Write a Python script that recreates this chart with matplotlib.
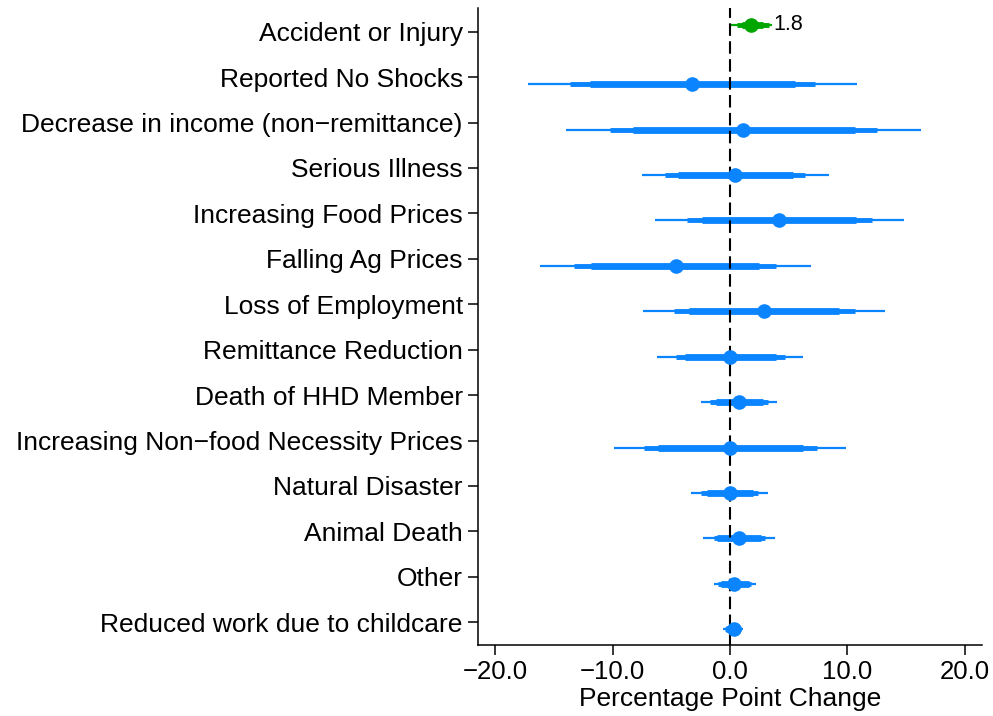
import matplotlib
matplotlib.use('Agg')
import matplotlib.pyplot as plt

# Shock categories, top to bottom
categorias = [
    'Accident or Injury',
    'Reported No Shocks',
    'Decrease in income (non\u2212remittance)',
    'Serious Illness',
    'Increasing Food Prices',
    'Falling Ag Prices',
    'Loss of Employment',
    'Remittance Reduction',
    'Death of HHD Member',
    'Increasing Non\u2212food Necessity Prices',
    'Natural Disaster',
    'Animal Death',
    'Other',
    'Reduced work due to childcare',
]

# Blue series (all rows except the first)
est_azul = [-3.2, 1.1, 0.4, 4.2, -4.6, 2.9, 0.0, 0.8, 0.0, 0.0, 0.8, 0.3, 0.3]
lo99_azul = [-17.2, -14.0, -7.5, -6.4, -16.2, -7.4, -6.2, -2.5, -9.9, -3.3, -2.3, -1.4, -0.6]
hi99_azul = [10.8, 16.3, 8.4, 14.8, 6.9, 13.2, 6.2, 4.0, 9.9, 3.2, 3.8, 2.2, 1.1]
lo95_azul = [-13.6, -10.2, -5.5, -3.7, -13.3, -4.8, -4.6, -1.7, -7.3, -2.5, -1.4, -1.0, -0.4]
hi95_azul = [7.2, 12.5, 6.4, 12.1, 3.9, 10.6, 4.7, 3.2, 7.4, 2.4, 3.0, 1.8, 0.9]
lo90_azul = [-11.9, -8.3, -4.4, -2.4, -11.8, -3.5, -3.8, -1.2, -6.1, -2.0, -1.1, -0.8, -0.3]
hi90_azul = [5.5, 10.6, 5.4, 10.7, 2.5, 9.3, 3.9, 2.8, 6.2, 2.0, 2.6, 1.6, 0.8]

# Green series (first row only)
est_verde = [1.8]
lo99_verde = [0.0]
hi99_verde = [3.6]
lo95_verde = [0.6]
hi95_verde = [3.3]
lo90_verde = [1.0]
hi90_verde = [2.8]

AZUL = '#0A84FF'
VERDE = '#00A600'

plt.rcParams['font.family'] = ['Liberation Sans', 'DejaVu Sans']
plt.rcParams['axes.unicode_minus'] = True

fig = plt.figure(figsize=(9.93, 7.16), dpi=100)
ax = fig.add_axes([0.4814, 0.0992, 0.5075, 0.8896])

n = len(categorias)
posiciones = [n - i for i in range(n)]


def dibujar_serie(ys, est, lo99, hi99, lo95, hi95, lo90, hi90, color):
    ax.hlines(ys, lo99, hi99, color=color, lw=1.6, zorder=2)
    ax.hlines(ys, lo95, hi95, color=color, lw=3.5, zorder=2)
    ax.hlines(ys, lo90, hi90, color=color, lw=4.9, zorder=2)
    ax.plot(est, ys, 'o', color=color, ms=9.5, mec=color, zorder=4)


ys_verde = [posiciones[0] + 0.155]
ys_azul = [p - 0.155 for p in posiciones[1:]]

dibujar_serie(ys_verde, est_verde, lo99_verde, hi99_verde, lo95_verde,
              hi95_verde, lo90_verde, hi90_verde, VERDE)
dibujar_serie(ys_azul, est_azul, lo99_azul, hi99_azul, lo95_azul,
              hi95_azul, lo90_azul, hi90_azul, AZUL)

# Value label for the green estimate
ax.text(hi99_verde[0] + 0.1, ys_verde[0], f'{est_verde[0]:.1f}',
        ha='left', va='center', fontsize=15.5, color='black', zorder=5)

# Reference line at zero
ax.axvline(0, color='black', lw=1.5, ls=(0, (6, 2.6)), zorder=3)

ax.set_xlim(-21.45, 21.45)
ax.set_ylim(0.5, n + 0.52)
ax.set_xticks([-20, -10, 0, 10, 20])
ax.set_xticklabels([f'{v:.1f}'.replace('-', '\u2212') for v in [-20, -10, 0, 10, 20]])
ax.set_yticks(posiciones)
ax.set_yticklabels(categorias)
ax.tick_params(axis='both', labelsize=19, width=1.1, length=7, direction='out', pad=4)
ax.tick_params(axis='x', labelsize=18.5, pad=4)
ax.set_xlabel('Percentage Point Change', fontsize=19, labelpad=2)

for lado in ['top', 'right']:
    ax.spines[lado].set_visible(False)
for lado in ['left', 'bottom']:
    ax.spines[lado].set_linewidth(1.1)

fig.savefig('out.png', dpi=100)
